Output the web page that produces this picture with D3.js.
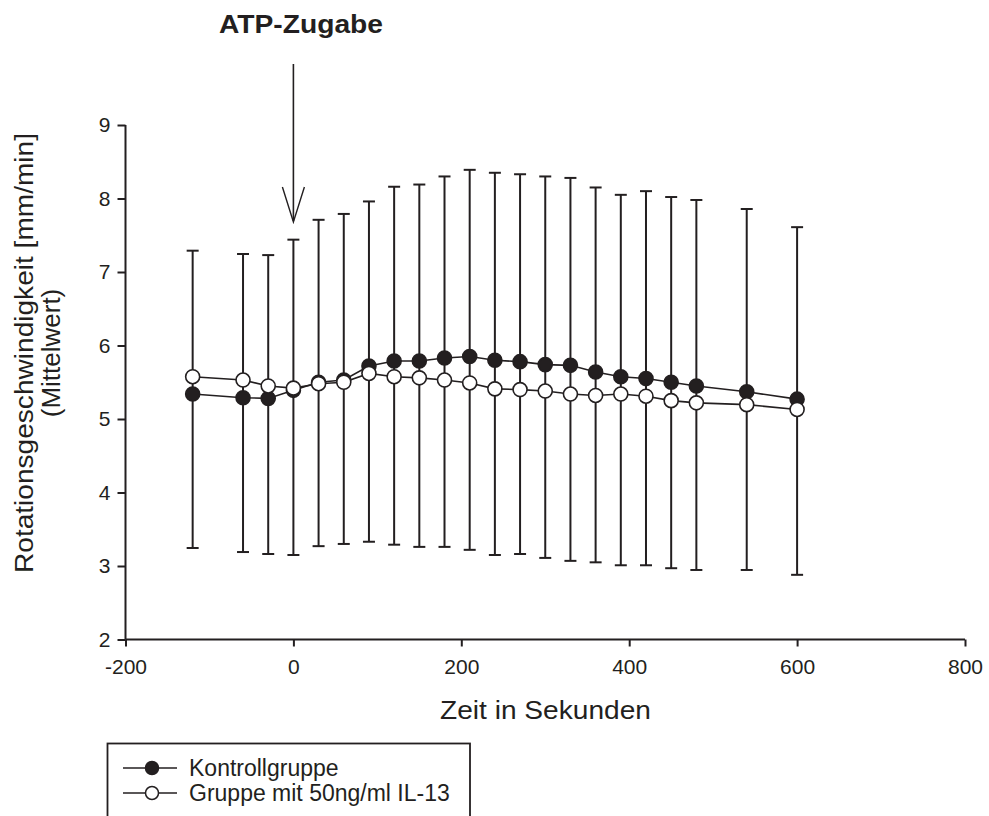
<!DOCTYPE html>
<html><head><meta charset="utf-8">
<script src="https://cdn.jsdelivr.net/npm/d3@7"></script>
<style>body{margin:0;background:#fff;}svg{display:block;font-family:"Liberation Sans",Arial,sans-serif;}</style>
</head><body>
<svg id="c" width="989" height="816"></svg>
<script>
const times = [-120,-60,-30,0,30,60,90,120,150,180,210,240,270,300,330,360,390,420,450,480,540,600];
const kontroll = [5.34,5.29,5.28,5.39,5.50,5.53,5.72,5.79,5.79,5.83,5.85,5.80,5.78,5.74,5.73,5.64,5.575,5.55,5.50,5.45,5.37,5.27];
const il13 = [5.575,5.53,5.45,5.42,5.48,5.50,5.62,5.575,5.56,5.53,5.49,5.41,5.40,5.38,5.34,5.32,5.34,5.31,5.25,5.22,5.195,5.13];
const errUpper = [7.29,7.245,7.23,7.44,7.71,7.79,7.96,8.16,8.19,8.30,8.39,8.35,8.33,8.30,8.28,8.15,8.05,8.10,8.02,7.98,7.857,7.61];
const errLower = [3.245,3.19,3.163,3.15,3.27,3.30,3.33,3.29,3.26,3.26,3.22,3.15,3.163,3.11,3.07,3.05,3.01,3.01,2.97,2.946,2.946,2.88];
const xTicks = [-200,0,200,400,600,800];
const yTicks = [2,3,4,5,6,7,8,9];
const seriesNames = ["Kontrollgruppe","Gruppe mit 50ng/ml IL-13"];
const arrowTime = 0;

const col = "#231f20";
const svg = d3.select("#c");
const x = d3.scaleLinear().domain([-200,800]).range([125.5,965]);
const y = d3.scaleLinear().domain([2,9]).range([639.5,125]);

// axes
const xa = svg.append("g").attr("transform","translate(0,639.5)")
  .call(d3.axisBottom(x).tickValues(xTicks).tickSize(7).tickPadding(13).tickFormat(d=>String(d)));
const ya = svg.append("g").attr("transform","translate(125.5,0)")
  .call(d3.axisLeft(y).tickValues(yTicks).tickSize(8).tickPadding(7).tickFormat(d=>String(d)));
[xa,ya].forEach(a=>{
  a.select(".domain").attr("stroke",col).attr("stroke-width",2);
  a.selectAll(".tick line").attr("stroke",col).attr("stroke-width",2);
  a.selectAll(".tick text").attr("fill",col).style("font-size","21px").style("font-family","'Liberation Sans',Arial,sans-serif");
});
xa.select(".domain").attr("d",`M${x(-200)},0H${x(800)}`);
ya.select(".domain").attr("d",`M0,${y(9)}V${y(2)}`);

// error bars
const eb = svg.append("g");
times.forEach((t,i)=>{
  eb.append("line").attr("x1",x(t)).attr("x2",x(t)).attr("y1",y(errLower[i])).attr("y2",y(errUpper[i]))
    .attr("stroke",col).attr("stroke-width",2);
  [errLower[i],errUpper[i]].forEach(v=>{
    eb.append("line").attr("x1",x(t)-6).attr("x2",x(t)+6).attr("y1",y(v)).attr("y2",y(v))
      .attr("stroke",col).attr("stroke-width",2);
  });
});

const line = d3.line().x(d=>x(d[0])).y(d=>y(d[1]));
function drawSeries(vals, fill){
  const pts = times.map((t,i)=>[t,vals[i]]);
  svg.append("path").datum(pts).attr("d",line).attr("fill","none").attr("stroke",col).attr("stroke-width",1.6);
  svg.append("g").selectAll("circle").data(pts).join("circle")
    .attr("cx",d=>x(d[0])).attr("cy",d=>y(d[1])).attr("r",7)
    .attr("fill",fill).attr("stroke",col).attr("stroke-width",1.6);
}
drawSeries(kontroll, col);
drawSeries(il13, "#fff");

// arrow
const ax = x(arrowTime);
svg.append("line").attr("x1",ax).attr("x2",ax).attr("y1",64).attr("y2",221).attr("stroke",col).attr("stroke-width",1.6);
svg.append("path").attr("d",`M${ax-11},187L${ax},222L${ax+11},187`).attr("fill","none").attr("stroke",col).attr("stroke-width",1.4);
svg.append("text").attr("x",219).attr("y",33).attr("fill",col)
  .attr("textLength",164).attr("lengthAdjust","spacingAndGlyphs")
  .style("font-weight","bold").style("font-size","25px").text("ATP-Zugabe");

// axis titles
svg.append("text").attr("x",440).attr("y",719).attr("fill",col)
  .attr("textLength",211).attr("lengthAdjust","spacingAndGlyphs")
  .style("font-size","26px").text("Zeit in Sekunden");
const yt = svg.append("g").attr("transform","translate(0,353) rotate(-90)");
yt.append("text").attr("x",-220).attr("y",33).attr("fill",col)
  .attr("textLength",440).attr("lengthAdjust","spacingAndGlyphs")
  .style("font-size","26px").text("Rotationsgeschwindigkeit [mm/min]");
yt.append("text").attr("x",0).attr("y",60).attr("text-anchor","middle").attr("fill",col)
  .style("font-size","26px").text("(Mittelwert)");

// legend
const lg = svg.append("g");
lg.append("rect").attr("x",107.5).attr("y",743.5).attr("width",362.5).attr("height",90).attr("fill","none").attr("stroke",col).attr("stroke-width",1.8);
seriesNames.forEach((n,i)=>{
  const yy = 768 + i*25;
  lg.append("line").attr("x1",123).attr("x2",177).attr("y1",yy).attr("y2",yy).attr("stroke",col).attr("stroke-width",1.6);
  lg.append("circle").attr("cx",152).attr("cy",yy).attr("r",6.5).attr("fill",i===0?col:"#fff").attr("stroke",col).attr("stroke-width",1.5);
  lg.append("text").attr("x",189).attr("y",yy+8).attr("fill",col).style("font-size","23px").text(n);
});
</script>
</body></html>
